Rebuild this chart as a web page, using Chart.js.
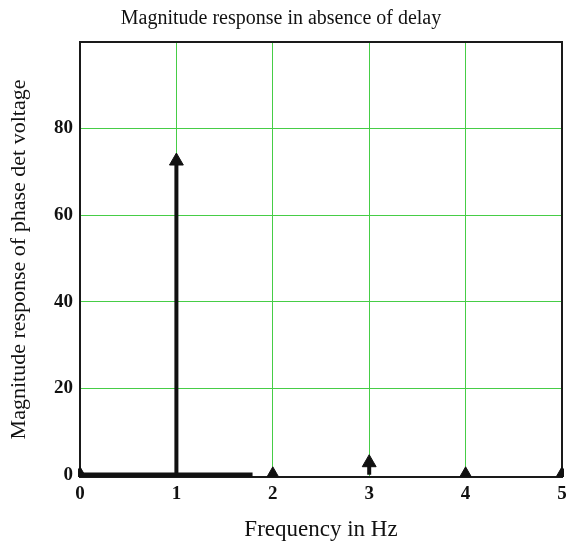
<!DOCTYPE html>
<html>
<head>
<meta charset="utf-8">
<script src="https://cdn.jsdelivr.net/npm/chart.js@4/dist/chart.umd.min.js"></script>
<style>
  html, body { margin: 0; padding: 0; background: #ffffff; }
  canvas { display: block; }
</style>
</head>
<body>
<canvas id="c" width="581" height="548"></canvas>
<script>
// ---- data ----
const frequencies = [0, 1, 2, 3, 4, 5];          // Hz
const magnitudes  = [0, 72.5, 0, 2.8, 0, 0];      // magnitude of phase det voltage
const baseTraceX  = [0, 1.79];                    // heavy zero-level trace
const baseTraceY  = [0, 0];
const xTicks = [0, 1, 2, 3, 4, 5];
const yTicks = [0, 20, 40, 60, 80, 100];
const yTickLabels = ['0', '20', '40', '60', '80', ''];

// build stem segments (gap between stems)
const stemData = [];
frequencies.forEach((f, i) => {
  stemData.push({ x: f, y: 0 });
  stemData.push({ x: f, y: magnitudes[i] });
  stemData.push({ x: f, y: null });
});
const baseData = baseTraceX.map((x, i) => ({ x: x, y: baseTraceY[i] }));

const SERIF = "'Liberation Serif', 'Times New Roman', serif";
const GRID = 'rgb(70,205,70)';
const NONE = 'rgba(0,0,0,0)';
const xGridColors = xTicks.map((v, i) => (i > 0 && i < xTicks.length - 1) ? GRID : NONE);
const yGridColors = yTicks.map((v, i) => (i > 0 && i < yTicks.length - 1) ? GRID : NONE);

const frame = {
  id: 'frame',
  beforeDatasetsDraw(chart) {
    const a = chart.chartArea, ctx = chart.ctx;
    ctx.save();
    ctx.strokeStyle = '#1a1a1a';
    ctx.lineWidth = 2;
    ctx.strokeRect(a.left, a.top, a.right - a.left, a.bottom - a.top);
    ctx.restore();
  }
};

new Chart(document.getElementById('c'), {
  type: 'line',
  data: {
    datasets: [
      {
        label: 'zero level',
        data: baseData,
        borderColor: '#111',
        borderWidth: 4.5,
        pointRadius: 0,
        clip: false
      },
      {
        label: 'magnitude',
        data: stemData,
        borderColor: '#111',
        backgroundColor: '#111',
        borderWidth: 4,
        spanGaps: false,
        pointStyle: 'triangle',
        pointRadius: ctx => (ctx.index % 3 === 1) ? 8 : 0,
        pointHoverRadius: ctx => (ctx.index % 3 === 1) ? 8 : 0,
        pointBorderWidth: 1,
        pointBackgroundColor: '#111',
        pointBorderColor: '#111',
        clip: { left: 2, right: 2, top: 2, bottom: 0 }
      }
    ]
  },
  options: {
    responsive: false,
    animation: false,
    events: [],
    layout: { padding: { left: 0, right: 19, top: 0, bottom: 0 } },
    plugins: {
      legend: { display: false },
      tooltip: { enabled: false },
      title: {
        display: true,
        text: 'Magnitude response in absence of delay',
        color: '#111',
        font: { family: SERIF, size: 20, weight: 'normal' },
        padding: { top: 7, bottom: 11 }
      }
    },
    scales: {
      x: {
        type: 'linear',
        min: 0, max: 5,
        afterFit: s => { s.height = 71; },
        afterBuildTicks: s => { s.ticks = xTicks.map(v => ({ value: v })); },
        grid: {
          color: xGridColors,
          lineWidth: 1,
          drawTicks: false
        },
        border: { display: false },
        ticks: {
          color: '#111',
          padding: 6,
          maxRotation: 0,
          font: { family: SERIF, size: 19, weight: 'bold' },
          callback: v => String(v)
        },
        title: {
          display: true,
          text: 'Frequency in Hz',
          color: '#111',
          font: { family: SERIF, size: 23, weight: 'normal' },
          padding: { top: 0, bottom: 4 }
        }
      },
      y: {
        type: 'linear',
        min: -0.5, max: 100,
        afterFit: s => { s.width = 80; },
        afterBuildTicks: s => { s.ticks = yTicks.map(v => ({ value: v })); },
        grid: {
          color: yGridColors,
          lineWidth: 1,
          drawTicks: false
        },
        border: { display: false },
        ticks: {
          color: '#111',
          padding: 7,
          font: { family: SERIF, size: 19, weight: 'bold' },
          callback: v => yTickLabels[yTicks.indexOf(v)]
        },
        title: {
          display: true,
          text: 'Magnitude response of phase det voltage',
          color: '#111',
          font: { family: SERIF, size: 22, weight: 'normal' },
          padding: { top: 6, bottom: 0 }
        }
      }
    }
  },
  plugins: [frame]
});
</script>
</body>
</html>
